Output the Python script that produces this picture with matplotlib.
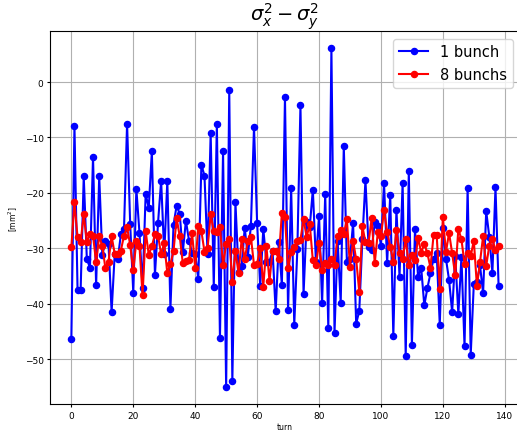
import numpy as np
import matplotlib
matplotlib.use("Agg")
import matplotlib.pyplot as plt

# ── data ──────────────────────────────────────────────────────────────────────
one_bunch = [
    -46.3, -7.9, -37.5, -37.5, -17.0, -31.9, -33.5, -13.5, -36.7, -17.0,
    -31.3, -28.7, -29.2, -41.5, -31.1, -31.9, -27.5, -26.6, -7.5, -25.6,
    -38.0, -19.3, -27.2, -37.1, -20.2, -22.7, -12.5, -34.8, -25.4, -17.8,
    -31.0, -17.8, -40.9, -25.8, -22.3, -23.8, -30.7, -25.0, -28.6, -30.8,
    -31.0, -35.5, -14.9, -16.9, -31.0, -9.2, -36.9, -7.6, -46.2, -12.5,
    -55.1, -1.5, -54.0, -21.7, -34.2, -33.2, -26.3, -31.5, -25.9, -8.1,
    -25.4, -36.8, -26.5, -32.4, -32.4, -30.5, -41.4, -28.9, -36.7, -2.7,
    -41.2, -19.2, -43.8, -30.2, -4.2, -38.3, -25.2, -26.2, -19.4, -32.4,
    -24.1, -39.9, -20.2, -44.4, 6.1, -45.3, -28.6, -39.9, -11.6, -32.4,
    -32.0, -25.4, -43.6, -41.3, -28.4, -17.7, -29.7, -30.3, -25.3, -25.9,
    -29.5, -18.2, -32.7, -20.3, -45.9, -23.0, -35.1, -18.2, -49.5, -16.1,
    -47.4, -26.6, -35.2, -33.5, -40.3, -37.2, -34.5, -31.9, -30.8, -43.8,
    -26.4, -31.9, -35.7, -41.5, -31.4, -41.9, -31.6, -47.7, -19.1, -49.2,
    -36.4, -36.0, -33.1, -38.1, -23.3, -27.9, -34.4, -19.0, -36.8,
]

eight_bunchs = [
    -29.8, -21.7, -28.0, -28.8, -23.9, -28.9, -27.4, -27.7, -32.5, -27.8,
    -29.6, -33.6, -32.4, -27.8, -31.0, -31.0, -30.4, -27.7, -26.2, -29.4,
    -34.0, -28.7, -29.6, -38.5, -26.9, -31.2, -29.6, -27.5, -27.7, -31.1,
    -29.1, -34.5, -32.9, -30.5, -24.6, -27.8, -32.7, -32.3, -32.1, -27.3,
    -33.5, -26.0, -26.9, -30.6, -30.0, -23.9, -26.9, -27.0, -26.1, -33.1,
    -29.2, -28.3, -36.0, -30.5, -34.5, -28.4, -32.0, -28.7, -28.0, -33.0,
    -32.8, -29.9, -36.9, -29.6, -35.9, -30.4, -30.5, -32.0, -23.6, -24.4,
    -33.5, -30.6, -29.8, -28.6, -28.5, -24.7, -28.0, -25.6, -32.2, -33.1,
    -29.0, -34.0, -32.6, -33.1, -32.0, -33.1, -27.7, -26.7, -27.4, -24.8,
    -33.3, -28.6, -32.0, -37.9, -26.0, -28.9, -29.0, -24.6, -32.7, -27.0,
    -27.8, -23.1, -27.1, -29.7, -32.4, -26.7, -30.8, -31.9, -28.4, -33.0,
    -31.2, -32.2, -28.1, -30.8, -29.2, -30.9, -33.5, -27.6, -27.6, -37.3,
    -24.4, -30.7, -27.2, -30.9, -34.9, -26.5, -28.4, -32.8, -30.8, -31.4,
    -28.6, -36.8, -32.5, -27.8, -33.2, -29.5, -28.4, -30.3, -29.6,
]

turns = np.arange(len(one_bunch))

# ── figure ────────────────────────────────────────────────────────────────────
fig = plt.figure(figsize=(5.17, 4.31), dpi=100)
ax = fig.add_axes([0.0967, 0.0596, 0.909, 0.8654])

ax.plot(turns, one_bunch, "b-o", markersize=4.4, linewidth=1.5, label="1 bunch")
ax.plot(turns, eight_bunchs, "r-o", markersize=4.4, linewidth=1.5, label="8 bunchs")

ax.grid(True, color="#b0b0b0", linewidth=0.8)
ax.set_title(r"$\sigma_x^2-\sigma_y^2$", fontsize=14)
ax.set_xlabel("turn", fontsize=5.5, labelpad=1.5)
ax.set_ylabel(r"[mm$^2$]", fontsize=5.5, labelpad=3)
ax.tick_params(labelsize=6.5, length=2.3, pad=2.3)
ax.set_xticks([0, 20, 40, 60, 80, 100, 120, 140])
ax.legend(loc="upper right", fontsize=10.5)

fig.savefig("out.png", dpi=100)
